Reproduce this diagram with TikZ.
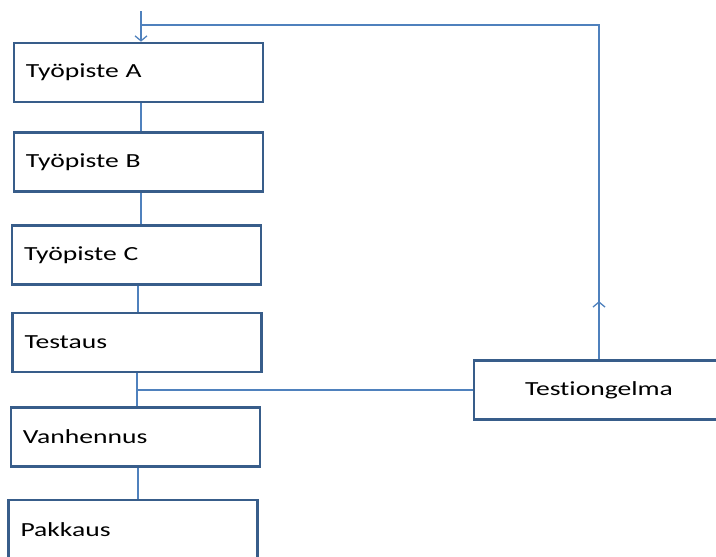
\documentclass[tikz,border=0pt]{standalone}
\usepackage{fontspec}
\setmainfont[FakeStretch=1.38, Ligatures=NoCommon]{Carlito}
\usetikzlibrary{arrows.meta}
\usetikzlibrary{calc}
\definecolor{boxline}{HTML}{385D8A}
\definecolor{linkline}{HTML}{4F81BD}
\tikzset{
  station/.style={draw=boxline, line width=2.6pt, minimum width=249pt, minimum height=59pt,
    inner sep=0pt, text width=225pt, align=left, font=\fontsize{20}{24}\selectfont},
  link/.style={draw=linkline, line width=1.3pt},
  barb/.style={-{Straight Barb[length=5pt, width=12pt]}}
}
\begin{document}
\begin{tikzpicture}[x=1pt, y=-1pt]
    \useasboundingbox (0,0) rectangle (716,557);

    \node[station] (A) at (138.5,72.5) {Työpiste A};
    \node[station] (B) at (138.5,162) {Työpiste B};
    \node[station] (C) at (136.5,255) {Työpiste C};
    \node[station] (test) at (137,342.5) {Testaus};
    \node[station] (aging) at (135.5,437) {Vanhennus};
    \node[station] (pack) at (133,529.5) {Pakkaus};
    \node[station, minimum width=250pt, text width=250pt, align=center] (problem) at (599,390) {Test\kern0pt iongelma};

    \coordinate (top) at (141,11);
    \coordinate (join) at (141,25);

    \draw[link, barb] (top) -- (top |- A.north);
    \draw[link] ([xshift=2.5pt]A.south) -- ([xshift=2.5pt]A.south |- B.north);
    \draw[link] ([xshift=2.5pt]B.south) -- ([xshift=2.5pt]B.south |- C.north);
    \draw[link] ([xshift=1.5pt]C.south) -- ([xshift=1.5pt]C.south |- test.north);
    \draw[link] (test.south) -- (test.south |- aging.north);
    \draw[link] ([xshift=2.5pt]aging.south) -- ([xshift=2.5pt]aging.south |- pack.north);
    \draw[link] (problem.west) -- (problem.west -| test.south);
    \draw[link] (problem.north) -- (problem.north |- join) -- (join);
    \draw[link, barb] (problem.north) -- ($(problem.north)+(0,-58)$);
  \end{tikzpicture}
\end{document}
